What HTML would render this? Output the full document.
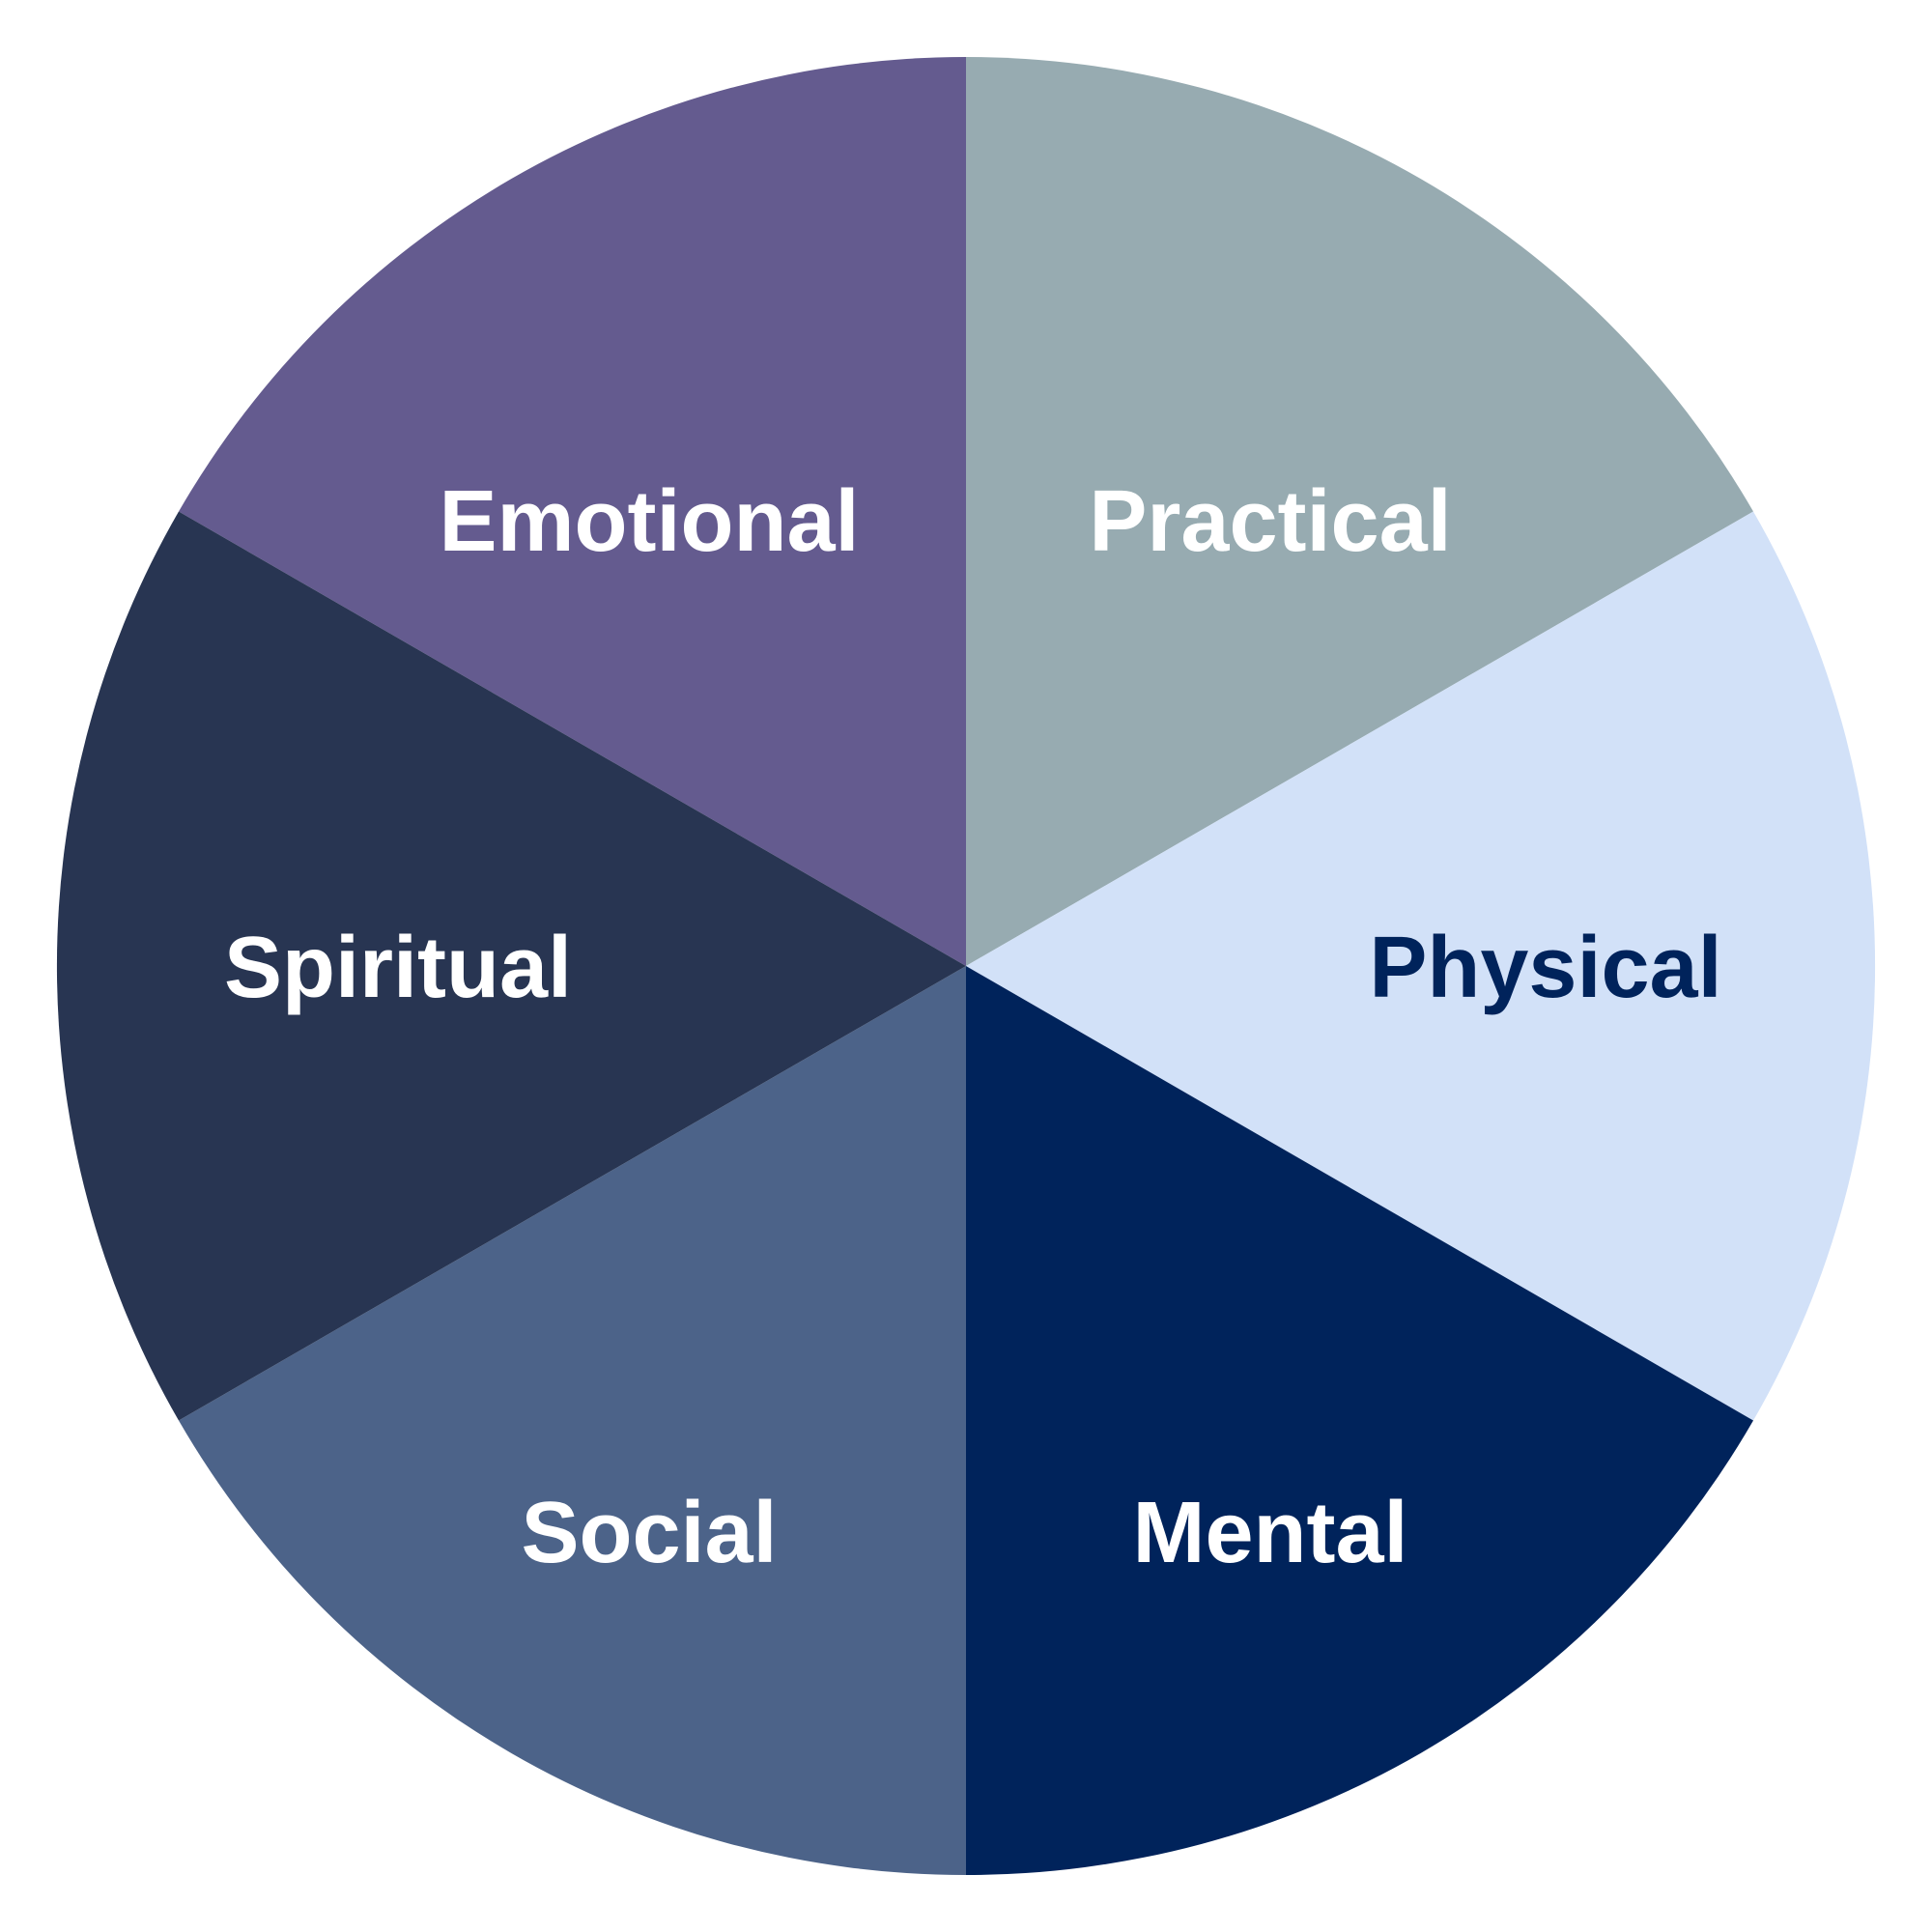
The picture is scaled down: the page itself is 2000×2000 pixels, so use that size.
<!DOCTYPE html>
<html><head><meta charset="utf-8"><style>html,body{margin:0;padding:0;background:#fff}svg{display:block}</style></head>
<body>
<svg width="2000" height="2000" viewBox="0 0 2000 2000" xmlns="http://www.w3.org/2000/svg">
<g>
<path d="M1000,1000 L1000,59 A941,941 0 0 0 185,529.5 Z" fill="#645b8f"/>
<path d="M1000,1000 L1815,529.5 A941,941 0 0 0 1000,59 Z" fill="#97abb1"/>
<path d="M1000,1000 L1815,1470.5 A941,941 0 0 0 1815,529.5 Z" fill="#d2e1f8"/>
<path d="M1000,1000 L1000,1941 A941,941 0 0 0 1815,1470.5 Z" fill="#00235b"/>
<path d="M1000,1000 L185,1470.5 A941,941 0 0 0 1000,1941 Z" fill="#4c6389"/>
<path d="M1000,1000 L185,529.5 A941,941 0 0 0 185,1470.5 Z" fill="#283552"/>
</g>
<g font-family="Liberation Sans, sans-serif" font-weight="bold" font-size="90" text-anchor="middle" fill="#ffffff">
<text x="672" y="570">Emotional</text>
<text x="1315" y="570">Practical</text>
<text x="1600" y="1032" fill="#00235b">Physical</text>
<text x="1315" y="1617">Mental</text>
<text x="672" y="1617">Social</text>
<text x="412" y="1032">Spiritual</text>
</g>
</svg>
</body></html>
